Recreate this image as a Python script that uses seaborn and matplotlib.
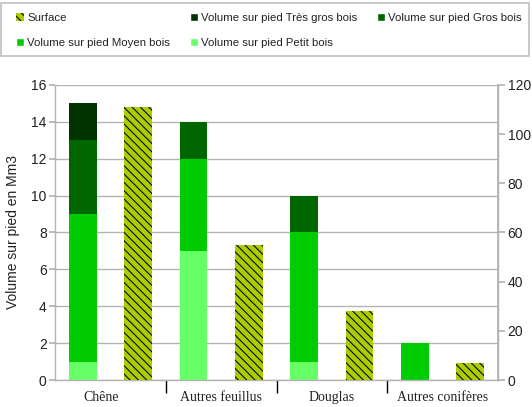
import matplotlib
matplotlib.use("Agg")
import matplotlib.pyplot as plt
from matplotlib.patches import Patch, Rectangle
from matplotlib.transforms import ScaledTranslation
import seaborn as sns
import pandas as pd

categories = ["Chêne", "Autres feuillus", "Douglas", "Autres conifères"]
petit_bois = [1, 7, 1, 0]
moyen_bois = [8, 5, 7, 2]
gros_bois = [4, 2, 2, 0]
tres_gros_bois = [2, 0, 0, 0]
surface = [111, 55, 28, 7]

left_ticks = [0, 2, 4, 6, 8, 10, 12, 14, 16]
right_ticks = [0, 20, 40, 60, 80, 100, 120]

c_tres = "#003300"
c_gros = "#006600"
c_moyen = "#00cc00"
c_petit = "#66ff66"
c_surf = "#aacc00"
grid_c = "#b3b3b3"
txt_c = "#222222"

sns.set_theme(style="white")
plt.rcParams["font.family"] = ["Liberation Sans", "DejaVu Sans"]
plt.rcParams["hatch.linewidth"] = 0.75

fig = plt.figure(figsize=(5.32, 4.07), dpi=100)
ax = fig.add_axes([55/532, 1-380/407, 443/532, 295/407])

# cumulative stacks
layers = []
cum = [0]*4
for vals, col in [(petit_bois, c_petit), (moyen_bois, c_moyen), (gros_bois, c_gros), (tres_gros_bois, c_tres)]:
    cum = [a+b for a, b in zip(cum, vals)]
    layers.append((list(cum), col))

order = ["Volume", "Surface"]
for vals, col in reversed(layers):
    df = pd.DataFrame({"cat": categories, "val": vals, "type": "Volume"})
    sns.barplot(data=df, x="cat", y="val", hue="type", hue_order=order,
                palette={"Volume": col, "Surface": c_surf}, dodge=True,
                width=1.0, gap=0.5, saturation=1, linewidth=0, legend=False,
                ax=ax, zorder=2)

ax.set_ylim(0, 16)
ax.set_yticks(left_ticks)
ax.set_xlim(-0.5, 3.5)
ax.yaxis.grid(True, color=grid_c, linewidth=1)
ax.set_axisbelow(True)
ax.spines["top"].set_visible(False)
for s in ["left", "bottom", "right"]:
    ax.spines[s].set_color(grid_c)
    ax.spines[s].set_linewidth(1)
ax.set_ylabel("Volume sur pied en Mm3", fontsize=10, color=txt_c, labelpad=8)
ax.set_xlabel("")
ax.tick_params(axis="y", which="major", left=True, length=4, color=grid_c,
               labelsize=10, labelcolor=txt_c, pad=2)
ax.set_xticks([0, 1, 2, 3])
ax.set_xticklabels(categories, fontfamily="Liberation Serif", fontsize=10, color=txt_c)
ax.set_xticks([0.5, 1.5, 2.5], minor=True)
ax.tick_params(axis="x", which="major", length=0, pad=8)
ax.tick_params(axis="x", which="minor", bottom=True, length=9, color="black", width=1)
lbl0 = ax.get_xticklabels()[0]
lbl0.set_transform(lbl0.get_transform() + ScaledTranslation(-9/100, 0, fig.dpi_scale_trans))

ax2 = ax.twinx()
df_s = pd.DataFrame({"cat": categories, "val": surface, "type": "Surface"})
sns.barplot(data=df_s, x="cat", y="val", hue="type", hue_order=order,
            palette={"Volume": c_moyen, "Surface": c_surf}, dodge=True,
            width=1.0, gap=0.5, saturation=1, linewidth=0, edgecolor="black",
            hatch="\\\\\\\\", legend=False, ax=ax2)
ax2.set_ylim(0, 120)
ax2.set_yticks(right_ticks)
ax2.set_xlim(-0.5, 3.5)
ax2.set_ylabel("")
ax2.set_xlabel("")
for s in ["top", "left", "bottom"]:
    ax2.spines[s].set_visible(False)
ax2.spines["right"].set_color(grid_c)
ax2.tick_params(axis="y", right=True, length=5, color=grid_c, labelsize=10,
                labelcolor=txt_c, pad=2)
ax2.grid(False)
for p in ax2.patches:
    p.set_edgecolor("black")
    p.set_linewidth(0)

# legend frame
fig.patches.append(Rectangle((1/532, 1-56/407), 528/532, 53/407, transform=fig.transFigure,
                             facecolor="white", edgecolor="#c0c0c0", linewidth=1.2, zorder=0))

handles = [
    Patch(facecolor=c_surf, edgecolor="black", hatch="\\\\\\\\", linewidth=0),
    Patch(facecolor=c_moyen),
    Patch(facecolor=c_tres),
    Patch(facecolor=c_petit),
    Patch(facecolor=c_gros),
]
labels = ["Surface", "Volume sur pied Moyen bois", "Volume sur pied Très gros bois",
          "Volume sur pied Petit bois", "Volume sur pied Gros bois"]
leg = fig.legend(handles, labels, ncol=3, loc="upper left",
                 bbox_to_anchor=(16/532, 1-13/407),
                 fontsize=8.2, frameon=False,
                 handlelength=0.7, handleheight=0.7, handletextpad=0.3,
                 labelspacing=1.35, columnspacing=1.7, borderpad=0, borderaxespad=0)
for t in leg.get_texts():
    t.set_color(txt_c)

fig.savefig("out.png", dpi=100)
